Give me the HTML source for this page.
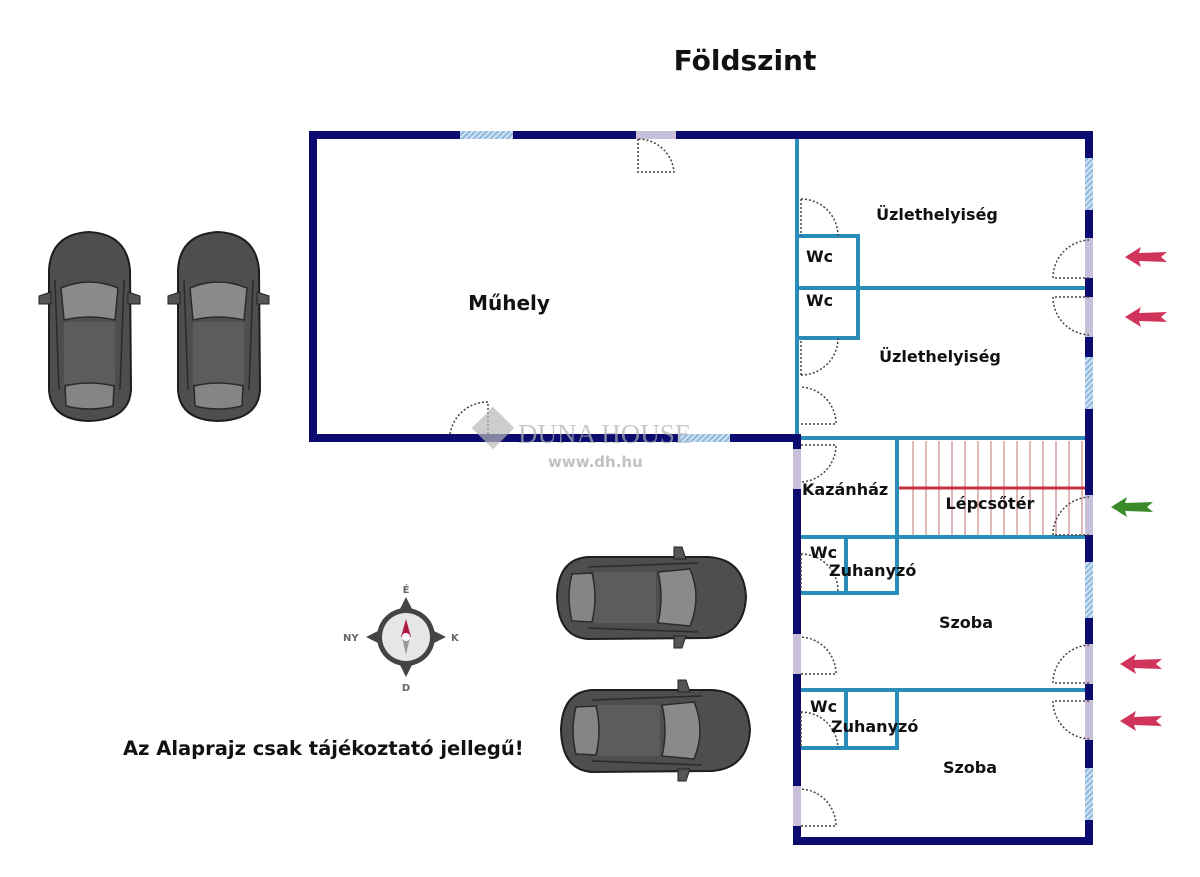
<!DOCTYPE html>
<html><head><meta charset="utf-8"><style>
html,body{margin:0;padding:0;background:#fff;}
svg{display:block;}
text{font-family:"DejaVu Sans","Liberation Sans",sans-serif;font-weight:bold;fill:#111;}
</style></head><body>
<svg width="1200" height="877" viewBox="0 0 1200 877" xmlns="http://www.w3.org/2000/svg">
<defs>
<pattern id="hatch" width="4" height="4" patternUnits="userSpaceOnUse" patternTransform="rotate(45)">
<rect width="4" height="4" fill="#cfe3f2"/><rect width="2" height="4" fill="#8fb8dc"/></pattern>
<g id="car">
<path d="M2,40 Q4,4 42,2 Q80,4 83,40 L84,160 Q82,190 42,191 Q4,190 2,160 Z" fill="#4e4e4e" stroke="#1e1e1e" stroke-width="2"/>
<path d="M-8,66 L4,62 L4,74 L-8,74 Z" fill="#555" stroke="#222"/>
<path d="M93,66 L81,62 L81,74 L93,74 Z" fill="#555" stroke="#222"/>
<path d="M14,58 Q42,46 71,58 L68,90 Q42,84 17,90 Z" fill="#8a8a8a" stroke="#2a2a2a" stroke-width="1.5"/>
<rect x="17" y="92" width="51" height="62" fill="#5c5c5c"/>
<path d="M18,156 Q42,150 67,156 L66,176 Q42,182 19,176 Z" fill="#858585" stroke="#2a2a2a" stroke-width="1.5"/>
<path d="M8,50 L12,160 M77,50 L73,160" stroke="#2a2a2a" stroke-width="1.5" fill="none"/>
</g>
<g id="arrow"><path d="M0,0 L16,-10 L14,-4 L42,-5 L36,0 L42,5 L14,4 L16,10 Z"/></g>
</defs>

<text x="745" y="70" font-size="28" text-anchor="middle">Földszint</text>

<use href="#car" transform="translate(47,230)"/>
<use href="#car" transform="translate(176,230)"/>
<use href="#car" transform="translate(748,555) rotate(90)"/>
<use href="#car" transform="translate(752,688) rotate(90)"/>

<g stroke="#2a8cb8" stroke-width="4" fill="none">
<line x1="797" y1="135" x2="797" y2="438"/>
<rect x="797" y="236" width="61" height="52"/>
<rect x="797" y="288" width="61" height="50"/>
<line x1="858" y1="288" x2="1089" y2="288"/>
<line x1="797" y1="438" x2="1089" y2="438"/>
<line x1="897" y1="438" x2="897" y2="537"/>
<line x1="797" y1="537" x2="1089" y2="537"/>
<line x1="846" y1="537" x2="846" y2="593"/>
<polyline points="797,593 897,593 897,537"/>
<line x1="797" y1="690" x2="1089" y2="690"/>
<line x1="846" y1="690" x2="846" y2="748"/>
<polyline points="797,748 897,748 897,690"/>
</g>
<g stroke="#c07070" stroke-width="1">
<line x1="913" y1="441" x2="913" y2="535"/><line x1="926" y1="441" x2="926" y2="535"/><line x1="939" y1="441" x2="939" y2="535"/><line x1="952" y1="441" x2="952" y2="535"/><line x1="965" y1="441" x2="965" y2="535"/><line x1="978" y1="441" x2="978" y2="535"/><line x1="991" y1="441" x2="991" y2="535"/><line x1="1004" y1="441" x2="1004" y2="535"/><line x1="1017" y1="441" x2="1017" y2="535"/><line x1="1030" y1="441" x2="1030" y2="535"/><line x1="1043" y1="441" x2="1043" y2="535"/><line x1="1056" y1="441" x2="1056" y2="535"/><line x1="1069" y1="441" x2="1069" y2="535"/><line x1="1082" y1="441" x2="1082" y2="535"/>
</g>
<line x1="899" y1="488" x2="1087" y2="488" stroke="#c83040" stroke-width="3"/>

<g stroke="#0b0b70" stroke-width="8" fill="none" stroke-linecap="square">
<polyline points="797,438 313,438 313,135 1089,135 1089,841 797,841 797,438"/>
</g>
<rect x="460" y="131" width="53" height="8" fill="url(#hatch)"/>
<rect x="678" y="434" width="52" height="8" fill="url(#hatch)"/>
<rect x="1085" y="158" width="8" height="52" fill="url(#hatch)"/>
<rect x="1085" y="357" width="8" height="52" fill="url(#hatch)"/>
<rect x="1085" y="562" width="8" height="56" fill="url(#hatch)"/>
<rect x="1085" y="768" width="8" height="52" fill="url(#hatch)"/>
<g fill="#c8c0d8">
<rect x="1085" y="238" width="8" height="40"/><rect x="1085" y="297" width="8" height="40"/>
<rect x="1085" y="495" width="8" height="40"/><rect x="1085" y="644" width="8" height="40"/>
<rect x="1085" y="700" width="8" height="40"/>
<rect x="793" y="449" width="8" height="40"/><rect x="793" y="634" width="8" height="40"/>
<rect x="793" y="786" width="8" height="40"/><rect x="636" y="131" width="40" height="8"/>
</g>
<g stroke="#444" stroke-width="1.5" stroke-dasharray="2,2" fill="none">
<path d="M1089,278 L1053,278 A38,38 0 0 1 1089,240"/>
<path d="M1089,297 L1053,297 A38,38 0 0 0 1089,335"/>
<path d="M1089,535 L1053,535 A38,38 0 0 1 1089,497"/>
<path d="M1089,683 L1053,683 A38,38 0 0 1 1089,645"/>
<path d="M1089,701 L1053,701 A38,38 0 0 0 1089,739"/>
<path d="M801,199 L801,236 M801,199 A37,37 0 0 1 838,236"/>
<path d="M801,375 L801,340 M801,375 A37,37 0 0 0 838,338"/>
<path d="M801,424 L836,424 A37,37 0 0 0 801,387"/>
<path d="M801,445 L836,445 A37,37 0 0 1 801,482"/>
<path d="M801,674 L836,674 A37,37 0 0 0 801,637"/>
<path d="M801,826 L836,826 A37,37 0 0 0 801,789"/>
<path d="M801,554 A37,37 0 0 1 838,591 M801,554 L801,591"/>
<path d="M801,712 A37,37 0 0 1 838,748 M801,712 L801,748"/>
<path d="M638,139 L638,172 L674,172 A36,36 0 0 0 638,139"/>
<path d="M450,434 A38,38 0 0 1 488,402 L488,434"/>
</g>

<g font-size="16">
<text x="509" y="310" text-anchor="middle" font-size="20">Műhely</text>
<text x="937" y="220" text-anchor="middle">Üzlethelyiség</text>
<text x="940" y="362" text-anchor="middle">Üzlethelyiség</text>
<text x="806" y="262">Wc</text>
<text x="806" y="306">Wc</text>
<text x="802" y="495">Kazánház</text>
<text x="990" y="509" text-anchor="middle">Lépcsőtér</text>
<text x="810" y="558">Wc</text>
<text x="829" y="576">Zuhanyzó</text>
<text x="966" y="628" text-anchor="middle">Szoba</text>
<text x="810" y="712">Wc</text>
<text x="831" y="732">Zuhanyzó</text>
<text x="970" y="773" text-anchor="middle">Szoba</text>
<text x="123" y="755" font-size="19.5">Az Alaprajz csak tájékoztató jellegű!</text>
</g>

<g opacity="0.7">
<rect x="478" y="413" width="30" height="30" transform="rotate(45 493 428)" fill="#b8b8b8"/>
<text x="518" y="443" font-size="27" style="fill:#b0b0b8;font-family:'Liberation Serif',serif;font-weight:normal">DUNA HOUSE</text>
<text x="548" y="467" font-size="15" style="fill:#a8a8a8">www.dh.hu</text>
</g>

<g transform="translate(406,637)">
<path d="M0,-40 L8,-24 L24,-8 L40,0 L24,8 L8,24 L0,40 L-8,24 L-24,8 L-40,0 L-24,-8 L-8,-24 Z" fill="#444"/>
<circle r="29" fill="#444"/><circle r="24" fill="#e6e6e6"/>
<path d="M0,-18 L5,0 L-5,0 Z" fill="#b01840"/>
<path d="M0,18 L4,0 L-4,0 Z" fill="#999"/>
<circle r="4" fill="#fff"/>
<text x="0" y="-44" font-size="10" text-anchor="middle" style="fill:#666">É</text>
<text x="0" y="54" font-size="10" text-anchor="middle" style="fill:#666">D</text>
<text x="-63" y="4" font-size="10" style="fill:#666">NY</text>
<text x="45" y="4" font-size="10" style="fill:#666">K</text>
</g>

<g fill="#d0345a">
<use href="#arrow" transform="translate(1125,257)"/>
<use href="#arrow" transform="translate(1125,317)"/>
<use href="#arrow" transform="translate(1120,664)"/>
<use href="#arrow" transform="translate(1120,721)"/>
</g>
<use href="#arrow" transform="translate(1111,507)" fill="#3a8a2a"/>
</svg>
</body></html>
